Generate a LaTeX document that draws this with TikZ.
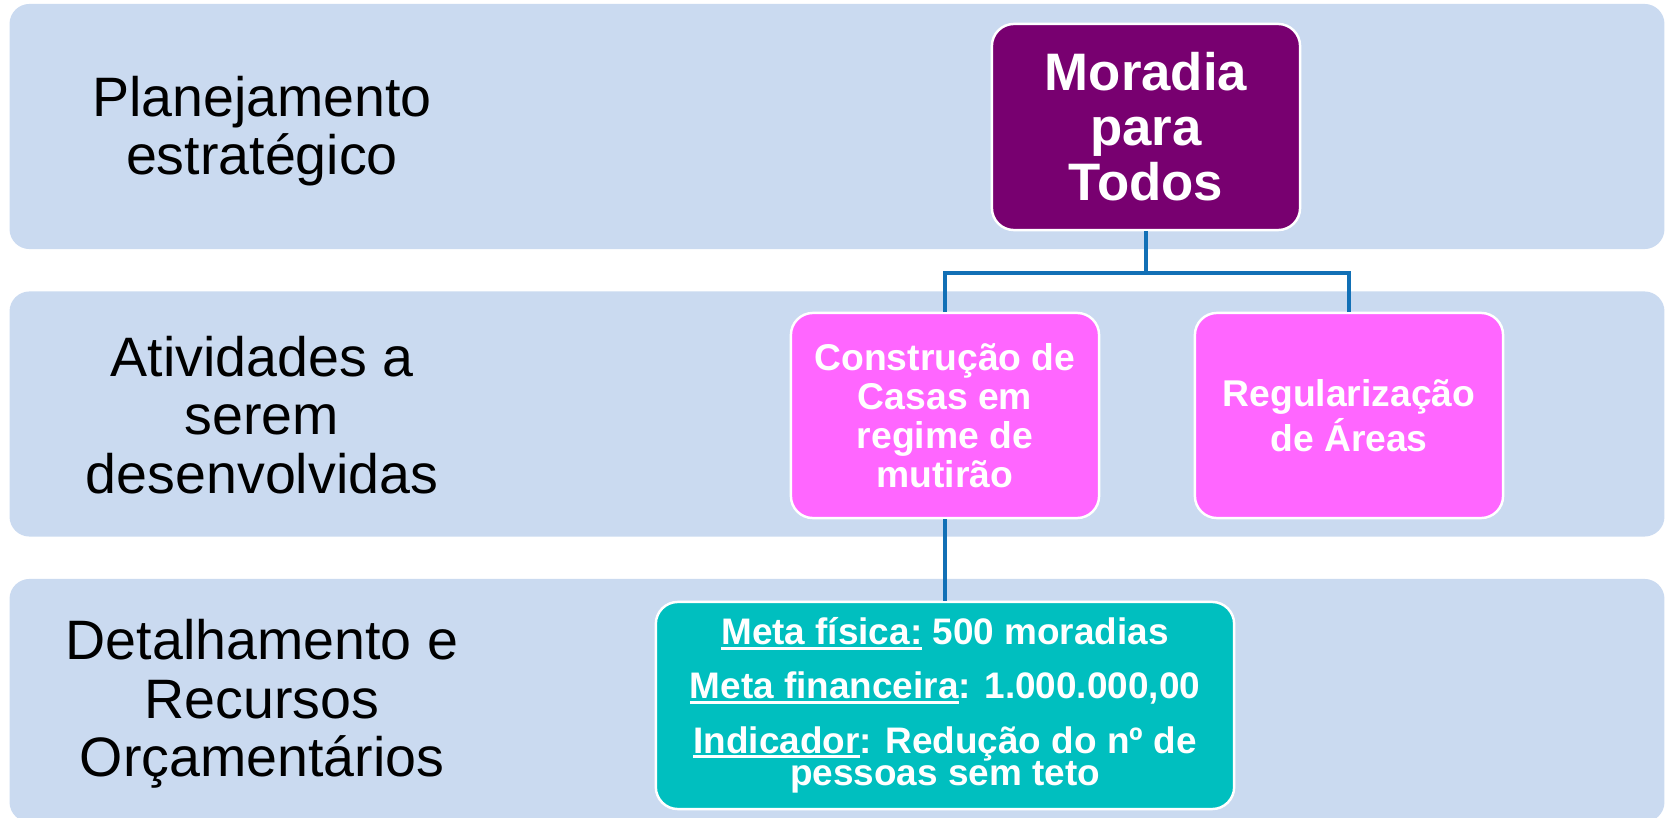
\documentclass[tikz,border=0pt]{standalone}
\usepackage{fontspec}
\setmainfont{Liberation Sans}

\definecolor{bandblue}{RGB}{202,218,240}
\definecolor{moradiapurple}{RGB}{120,0,112}
\definecolor{atividadepink}{RGB}{255,102,255}
\definecolor{metateal}{RGB}{0,191,191}
\definecolor{linkblue}{RGB}{18,112,182}

\newcommand{\metaul}[1]{\setbox0\hbox{#1}\rlap{\rule[-1.4pt]{\wd0}{0.8pt}}\box0\relax}

\begin{document}
\begin{tikzpicture}[x=0.01cm,y=-0.01cm]
\tikzstyle{band}=[fill=bandblue, draw=none, rounded corners=0.2cm, minimum width=16.54cm]
\tikzstyle{level}=[align=center, font=\fontsize{15.8}{16.6}\selectfont]
\tikzstyle{box}=[draw=white, line width=0.7pt, rounded corners=0.22cm, text=white, align=center, inner sep=2pt]
\tikzstyle{link}=[draw=linkblue, line width=0.9pt]

\useasboundingbox (0,0) rectangle (1665,818);

\node [band, minimum height=2.45cm] (bandplan) at (837,126.5) {};
\node [band, minimum height=2.45cm] (bandativ) at (837,414) {};
\node [band, minimum height=2.43cm] (banddet) at (837,700.5) {};

\node [level] (lblplan) at (262,131) {Planejamento\\estratégico};
\node [level] (lblativ) at (262,415) {Atividades a\\serem\\desenvolvidas};
\node [level] (lbldet) at (262,704) {Detalhamento e\\Recursos\\Orçamentários};

\node [box, fill=moradiapurple, minimum width=3.08cm, minimum height=2.06cm,
  font=\bfseries\fontsize{15}{15.6}\selectfont] (moradia) at (1146,127) {Moradia\\para\\Todos};
\node [box, fill=atividadepink, minimum width=3.08cm, minimum height=2.05cm,
  font=\bfseries\fontsize{10.6}{11.1}\selectfont] (construcao) at (945,415.5) {Construção de\\Casas em\\regime de\\mutirão};
\node [box, fill=atividadepink, minimum width=3.08cm, minimum height=2.05cm,
  font=\bfseries\fontsize{10.6}{11.1}\selectfont] (regular) at (1349,415.5) {Regularização\\de Áreas};
\node [box, fill=metateal, minimum width=5.78cm, minimum height=2.07cm,
  font=\bfseries\fontsize{10.5}{9.3}\selectfont] (meta) at (945,705.5)
  {\metaul{Meta física:} 500 moradias\\[6.1pt]
   \metaul{Meta financeira}: 1.000.000,00\\[6.1pt]
   \metaul{Indicador}: Redução do nº de\\
   pessoas sem teto};

\coordinate (fork) at (1146,273);
\draw [link] (moradia.south) -- (fork) -| (construcao.north);
\draw [link] (fork) -| (regular.north);
\draw [link] (construcao.south) -- (meta.north);
\end{tikzpicture}
\end{document}
